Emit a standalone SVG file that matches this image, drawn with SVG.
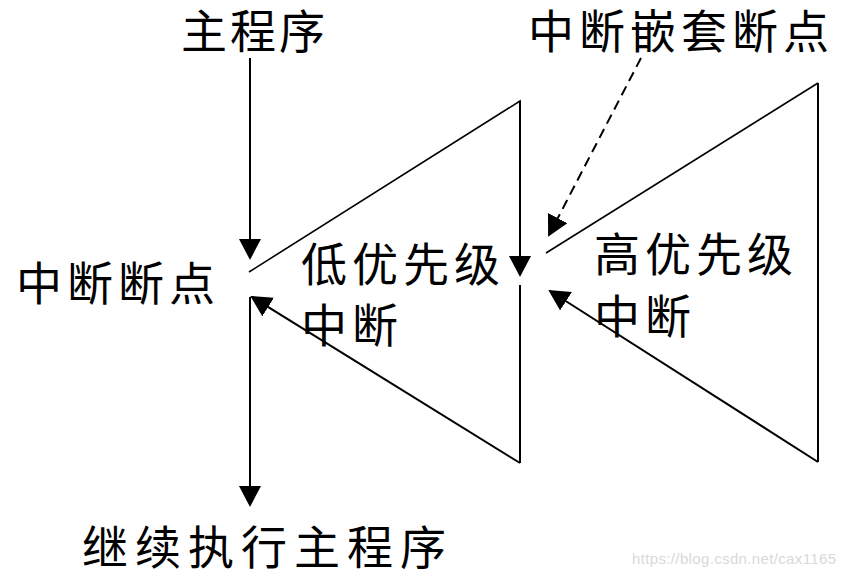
<svg xmlns="http://www.w3.org/2000/svg" width="846" height="576" viewBox="0 0 846 576">
<style>
.t{font-family:"Noto Sans CJK SC","Noto Sans",sans-serif;font-size:46px;fill:#000;letter-spacing:5px}
.ln{stroke:#000;stroke-width:2;fill:none}
.thin{stroke:#000;stroke-width:1.6;fill:none}
.wm{font-family:"Liberation Sans",Arial,sans-serif;font-size:15px;fill:#d9d9d9}
</style>
<defs>
<marker id="ah" markerUnits="userSpaceOnUse" markerWidth="24" markerHeight="24" refX="19" refY="11" orient="auto">
<path d="M0,0 L21,11 L0,22 Z" fill="#000"/>
</marker>
</defs>
<rect width="846" height="576" fill="#fff"/>
<g id="connectors">
<line class="ln" x1="250" y1="58" x2="250" y2="258" marker-end="url(#ah)"/>
<polyline class="thin" points="249,272 520,101 520,258"/>
<line class="ln" x1="520" y1="101" x2="520" y2="275" marker-end="url(#ah)"/>
<line class="ln" x1="520" y1="285" x2="520" y2="463"/>
<line class="ln" x1="520" y1="463" x2="252" y2="297" marker-end="url(#ah)"/>
<line class="ln" x1="250" y1="297" x2="250" y2="505" marker-end="url(#ah)"/>
<line class="thin" x1="546" y1="253" x2="818" y2="83"/>
<line class="ln" x1="818" y1="83" x2="818" y2="462"/>
<line class="ln" x1="818" y1="462" x2="550" y2="291" marker-end="url(#ah)"/>
<line class="ln" x1="641" y1="58" x2="549" y2="235" stroke-width="2.6" stroke-dasharray="10,6" marker-end="url(#ah)"/>
</g>
<g id="main"><text class="t" x="181" y="48" style="letter-spacing:3px">主程序</text></g>
<g id="nested"><text class="t" x="528" y="48">中断嵌套断点</text></g>
<g id="breakpoint"><text class="t" x="16" y="300">中断断点</text></g>
<g id="low"><text class="t" x="301" y="281">低优先级</text><text class="t" x="301" y="342">中断</text></g>
<g id="high"><text class="t" x="594" y="271">高优先级</text><text class="t" x="594" y="333">中断</text></g>
<g id="continue"><text class="t" x="82" y="564" style="letter-spacing:7px">继续执行主程序</text></g>
<text class="wm" x="632" y="564" textLength="204">https://blog.csdn.net/cax1165</text>
</svg>
